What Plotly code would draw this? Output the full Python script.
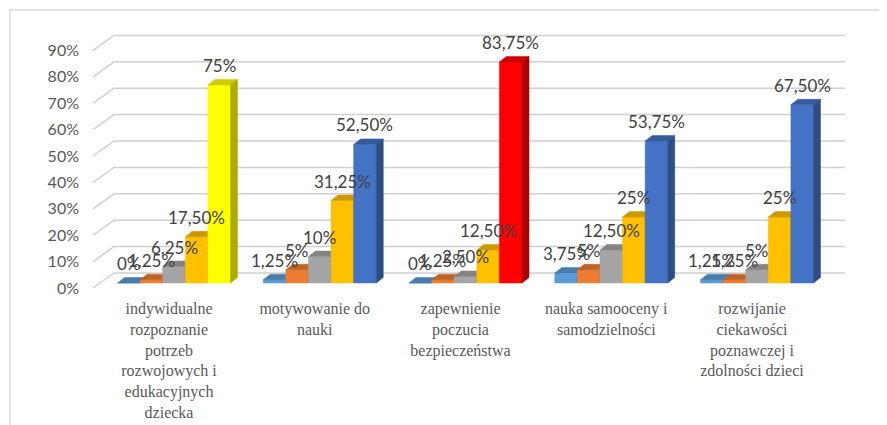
import plotly.graph_objects as go

# category labels (x axis) and the five series, values in %
categories = [
    "indywidualne<br>rozpoznanie<br>potrzeb<br>rozwojowych i<br>edukacyjnych<br>dziecka",
    "motywowanie do<br>nauki",
    "zapewnienie<br>poczucia<br>bezpieczeństwa",
    "nauka samooceny i<br>samodzielności",
    "rozwijanie<br>ciekawości<br>poznawczej i<br>zdolności dzieci",
]
series_1 = [0, 1.25, 0, 3.75, 1.25]
series_2 = [1.25, 5, 1.25, 5, 1.25]
series_3 = [6.25, 10, 2.5, 12.5, 5]
series_4 = [17.5, 31.25, 12.5, 25, 25]
series_5 = [75, 52.5, 83.75, 53.75, 67.5]
y_ticks = [0, 10, 20, 30, 40, 50, 60, 70, 80, 90]

series = [series_1, series_2, series_3, series_4, series_5]
colors = ["#5B9BD5", "#ED7D31", "#A5A5A5", "#FFC000", "#4472C4"]
# single points recoloured in the original
point_colors = {(4, 0): "#FFFF00", (4, 2): "#FF0000"}

# pixel geometry of the Excel-like 3D look (page pixels, body has 8px margin)
PX = 145.75          # px per category
PY = 2.64            # px per percent
C0, BASE = 174, 283  # page x of first category centre, page y of bar base
L, R, T, B = 90, 848, 28, 291   # plot area in page pixels
W = 22.6 / PX        # bar width
DX, DY = 7 / PX, 5.5 / PY        # bar depth
X0, X1 = (L - C0) / PX, (R - C0) / PX
Y0, Y1 = (BASE - B) / PY, (BASE - T) / PY


def shade(hex_color, k):
    h = hex_color.lstrip("#")
    r, g, b = (int(h[i:i + 2], 16) for i in (0, 2, 4))
    return "rgb(%d,%d,%d)" % (r * k, g * k, b * k)


def fmt(v):
    if float(v).is_integer():
        return "%d%%" % v
    return ("%.2f%%" % v).replace(".", ",")


fig = go.Figure()

# back wall gridlines with the diagonal to the front
gx, gy = [], []
for t in y_ticks:
    gx += [(93 - C0) / PX, (114 - C0) / PX, (845 - C0) / PX, None]
    gy += [t - 5 / PY, t + 10 / PY, t + 10 / PY, None]
fig.add_trace(go.Scatter(x=gx, y=gy, mode="lines", hoverinfo="skip",
                         line=dict(color="#d0d0d0", width=1.5), showlegend=False))


def poly(xs, ys, color):
    fig.add_trace(go.Scatter(x=xs + [xs[0]], y=ys + [ys[0]], mode="lines", fill="toself",
                             fillcolor=color, line=dict(color=color, width=0.5),
                             hoverinfo="skip", showlegend=False))


annotations = []
for j, vals in enumerate(series):
    for i, v in enumerate(vals):
        c = point_colors.get((j, i), colors[j])
        xl = i + (j - 2.5) * W
        xr = xl + W
        poly([xl, xr, xr, xl], [0, 0, v, v], c)
        poly([xl, xr, xr + DX, xl + DX], [v, v, v + DY, v + DY], shade(c, 0.8))
        poly([xr, xr + DX, xr + DX, xr], [0, DY, v + DY, v], shade(c, 0.68))
        annotations.append(dict(x=xl + W / 2, y=v, text=fmt(v), showarrow=False,
                                yanchor="bottom", yshift=7,
                                font=dict(family="Lato", size=17, color="#404040")))

# outer chart frame
fig.add_shape(type="rect", xref="paper", yref="paper",
              x0=(10 - L) / (R - L), x1=1.2, y0=-1, y1=(B - 10) / (B - T),
              line=dict(color="#d9d9d9", width=1.5), layer="below")

fig.update_layout(
    width=879, height=417,
    margin=dict(l=L - 8, r=879 - (R - 8), t=T - 8, b=417 - (B - 8)),
    paper_bgcolor="white", plot_bgcolor="white",
    annotations=annotations,
    xaxis=dict(range=[X0, X1], tickvals=list(range(len(categories))), ticktext=categories,
               showgrid=False, zeroline=False, showline=False, ticks="", automargin=False,
               ticklabelstandoff=6, ticklabelshift=-5,
               tickfont=dict(family="Liberation Serif", size=16, color="#595959")),
    yaxis=dict(range=[Y0, Y1], tickvals=y_ticks, ticktext=[f"{t}%" for t in y_ticks],
               showgrid=False, zeroline=False, showline=False, ticks="", automargin=False,
               ticklabelstandoff=10, ticklabelshift=5,
               tickfont=dict(family="Lato", size=16, color="#595959")),
)

fig.write_html("out.html")
